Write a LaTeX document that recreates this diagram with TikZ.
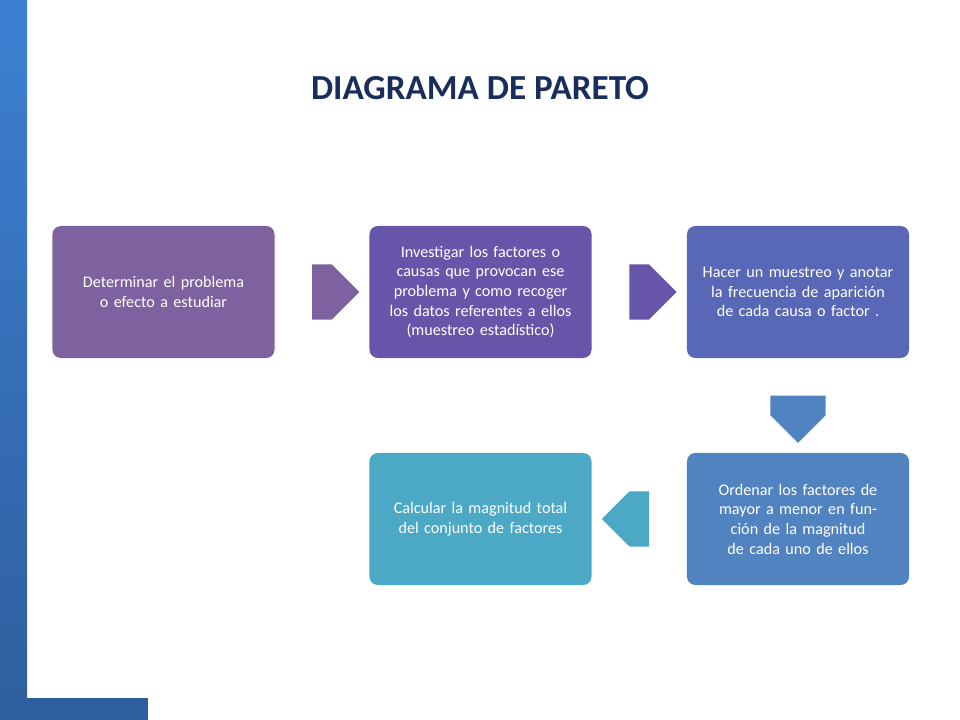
\documentclass[tikz,border=0pt]{standalone}
\usepackage{fontspec}
\setmainfont{Carlito}
\usetikzlibrary{positioning,shapes.arrows,calc}
\definecolor{barblue}{HTML}{2F5E9E}
\definecolor{bartop}{HTML}{3D80D2}
\definecolor{titleblue}{HTML}{1A2E5C}
\definecolor{cA}{HTML}{7E619F}
\definecolor{cB}{HTML}{6755A9}
\definecolor{cC}{HTML}{5867B6}
\definecolor{cD}{HTML}{5283C1}
\definecolor{cE}{HTML}{4CA9C6}
\tikzset{
    stepbox/.style={rectangle, rounded corners=6pt, minimum width=5.55cm, minimum height=3.3cm,
        text width=5.1cm, align=center, text=white, font=\fontsize{11.5}{14}\selectfont},
    blockarrow/.style={single arrow, minimum width=1.38cm, minimum height=1.18cm,
        single arrow head extend=0pt, single arrow tip angle=90, inner sep=0pt}
}
\begin{document}
\begin{tikzpicture}[x=0.025cm, y=-0.025cm]
    \useasboundingbox (0,0) rectangle (960,720);
    % side bar
    \shade[top color=bartop, bottom color=barblue] (0,0) rectangle (27,720);
    \fill[barblue] (0,698) rectangle (148,720);
    \node (title) at (480,88) [text=titleblue, font=\fontsize{25}{30}\selectfont\bfseries] {DIAGRAMA DE PARETO};
    % steps
    \node (s1) at (163.5,292) [stepbox, fill=cA] {Determinar el problema o efecto a estudiar};
    \node (s2) at (480.5,292) [stepbox, fill=cB] {Investigar los factores o causas que provocan ese problema y como recoger los datos referentes a ellos (muestreo estadístico)};
    \node (s3) at (798,292) [stepbox, fill=cC] {Hacer un muestreo y anotar la frecuencia de aparición de cada causa o factor .};
    \node (s4) at (798,519) [stepbox, fill=cD] {Ordenar los factores de mayor a menor en función de la magnitud de cada uno de ellos};
    \node (s5) at (480.5,519) [stepbox, fill=cE] {Calcular la magnitud total del conjunto de factores};
    % arrows
    \node (a12) at ($(s1.east)!0.5!(s2.west)$) [blockarrow, fill=cA] {};
    \node (a23) at ($(s2.east)!0.5!(s3.west)$) [blockarrow, fill=cB] {};
    \node (a34) at ($(s3.south)!0.5!(s4.north)$) [blockarrow, fill=cD, shape border rotate=270] {};
    \node (a45) at ($(s4.west)!0.5!(s5.east)$) [blockarrow, fill=cE, shape border rotate=180] {};
\end{tikzpicture}
\end{document}
